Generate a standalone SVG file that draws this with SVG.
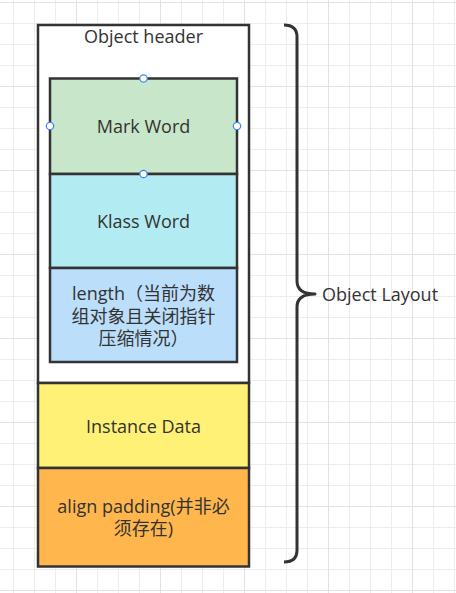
<svg xmlns="http://www.w3.org/2000/svg" width="456" height="593" viewBox="0 0 456 593">
  <style>
    .box { stroke: #333333; stroke-width: 2.5; }
    .lbl { font-family: "Open Sans", "Noto Sans CJK SC", sans-serif; font-size: 18px; fill: #333333; text-anchor: middle; }
    .handle { fill: #ffffff; stroke: #3a86ff; stroke-width: 1.2; }
    .brace { fill: none; stroke: #333333; stroke-width: 3; stroke-linecap: butt; stroke-linejoin: round; }
  </style>
  <defs>
    <pattern id="grid" patternUnits="userSpaceOnUse" x="76" y="2" width="84" height="84">
      <rect x="0" y="0" width="84" height="84" fill="#ffffff"/>
      <g fill="#ededed">
        <rect x="21" y="0" width="1" height="84"/>
        <rect x="42" y="0" width="1" height="84"/>
        <rect x="63" y="0" width="1" height="84"/>
        <rect x="0" y="21" width="84" height="1"/>
        <rect x="0" y="42" width="84" height="1"/>
        <rect x="0" y="63" width="84" height="1"/>
      </g>
      <g fill="#e2e2e2">
        <rect x="0" y="0" width="1" height="84"/>
        <rect x="0" y="0" width="84" height="1"/>
      </g>
    </pattern>
  </defs>
  <rect x="0" y="0" width="456" height="593" fill="url(#grid)"/>

  <g id="object-header">
    <rect class="box" x="38" y="25" width="211" height="358" fill="#ffffff"/>
    <text class="lbl" x="143.5" y="43">Object header</text>
  </g>

  <g id="mark-word">
    <rect class="box" x="50" y="78.5" width="187" height="95.5" fill="#C8E6C9"/>
    <text class="lbl" x="143.5" y="133">Mark Word</text>
  </g>

  <g id="klass-word">
    <rect class="box" x="50" y="174" width="187" height="94" fill="#B2EBF2"/>
    <text class="lbl" x="143.5" y="228">Klass Word</text>
  </g>

  <g id="length">
    <rect class="box" x="50" y="268" width="187" height="94" fill="#BBDEFB"/>
    <text class="lbl" x="143.5" y="300">length（当前为数</text>
    <text class="lbl" x="143.5" y="323">组对象且关闭指针</text>
    <text class="lbl" x="143.5" y="345">压缩情况）</text>
  </g>

  <g id="instance-data">
    <rect class="box" x="38" y="383" width="211" height="85" fill="#FFF176"/>
    <text class="lbl" x="143.5" y="433">Instance Data</text>
  </g>

  <g id="align-padding">
    <rect class="box" x="38" y="468" width="211" height="98.5" fill="#FFB74D"/>
    <text class="lbl" x="143.5" y="513">align padding(并非必</text>
    <text class="lbl" x="143.5" y="535">须存在)</text>
  </g>

  <g id="selection-handles">
    <circle class="handle" cx="143.5" cy="78.5" r="3.7"/>
    <circle class="handle" cx="50" cy="126" r="3.7"/>
    <circle class="handle" cx="237" cy="126" r="3.7"/>
    <circle class="handle" cx="143.5" cy="174" r="3.7"/>
  </g>

  <g id="object-layout">
    <path class="brace" d="M284,25 Q297,25 297,37 L297,281 Q297,294 315,294 Q297,294 297,307 L297,550 Q297,562 284,562"/>
    <text class="lbl" x="322" y="301" style="text-anchor:start">Object Layout</text>
  </g>
</svg>
